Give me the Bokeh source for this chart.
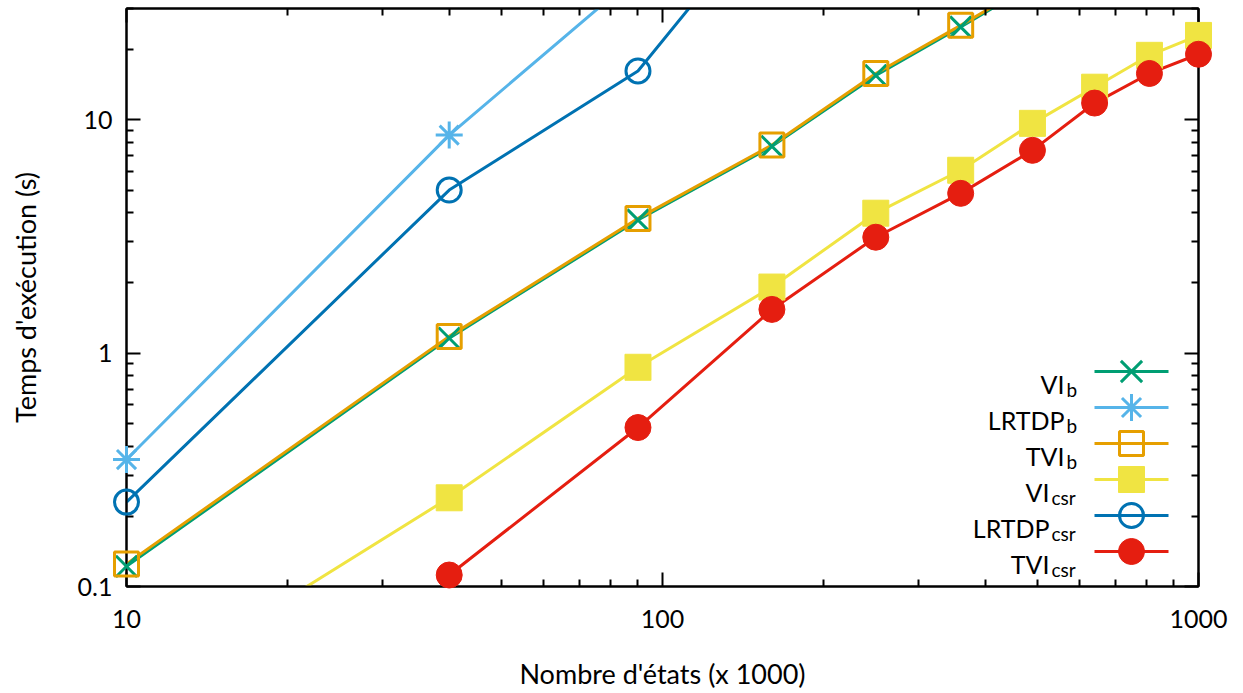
import numpy as np
from bokeh.plotting import figure
from bokeh.models import LogAxis, FixedTicker, Range1d, CustomJSTickFormatter
from bokeh.embed import file_html
from bokeh.resources import INLINE
from bokeh.core.properties import value

# ---------------- data ----------------
vi_b_x = [10, 40, 90, 160, 250, 360, 490]
vi_b_y = [0.122, 1.16, 3.72, 7.7, 15.5, 25.0, 38.0]

lrtdp_b_x = [10, 40, 90]
lrtdp_b_y = [0.35, 8.6, 42.0]

tvi_b_x = [10, 40, 90, 160, 250, 360, 490]
tvi_b_y = [0.125, 1.18, 3.78, 7.8, 15.8, 25.4, 38.5]

vi_csr_x = [10, 40, 90, 160, 250, 360, 490, 640, 810, 1000]
vi_csr_y = [0.033, 0.24, 0.87, 1.92, 3.98, 6.08, 9.66, 13.8, 18.9, 23.0]

lrtdp_csr_x = [10, 40, 90, 160]
lrtdp_csr_y = [0.23, 5.0, 16.2, 82.0]

tvi_csr_x = [40, 90, 160, 250, 360, 490, 640, 810, 1000]
tvi_csr_y = [0.112, 0.48, 1.54, 3.14, 4.84, 7.4, 11.8, 15.8, 19.1]

labels_main = ["VI", "LRTDP", "TVI", "VI", "LRTDP", "TVI"]
labels_sub = ["b", "b", "b", "csr", "csr", "csr"]

x_ticks = [10, 100, 1000]
x_minor = [20, 30, 40, 50, 60, 70, 80, 90, 200, 300, 400, 500, 600, 700, 800, 900]
y_ticks = [0.1, 1, 10]
y_minor = [0.2, 0.3, 0.4, 0.5, 0.6, 0.7, 0.8, 0.9, 2, 3, 4, 5, 6, 7, 8, 9, 20, 30]

XMIN, XMAX = 10, 1000
YMIN, YMAX = 0.1, 30

FONT = "Lato"
FS = "25px"
FS_AXIS = "27px"
FS_SUB = "19px"

# ---------------- layout ----------------
W, H = 1243, 693
FL, FR, FT, FB = 126, 1198, 8, 586

p = figure(width=W, height=H, x_axis_type="log", y_axis_type="log",
           x_range=Range1d(XMIN, XMAX), y_range=Range1d(YMIN, YMAX),
           output_backend="svg", toolbar_location=None,
           min_border_left=FL, min_border_right=W - FR,
           min_border_top=FT, min_border_bottom=H - FB)
p.xgrid.visible = False
p.ygrid.visible = False
p.outline_line_color = "black"
p.outline_line_width = 2
p.background_fill_color = "white"
p.border_fill_color = "white"

xt = FixedTicker(ticks=x_ticks, minor_ticks=x_minor)
yt = FixedTicker(ticks=y_ticks, minor_ticks=y_minor)


def style_axis(ax):
    ax.axis_line_color = "black"
    ax.axis_line_width = 2
    ax.major_tick_in = 14
    ax.major_tick_out = 0
    ax.minor_tick_in = 7
    ax.minor_tick_out = 0
    ax.major_tick_line_width = 2
    ax.minor_tick_line_width = 2
    ax.major_tick_line_color = "black"
    ax.minor_tick_line_color = "black"
    ax.major_label_text_font = FONT
    ax.major_label_text_font_size = FS
    ax.major_label_text_color = "black"
    ax.axis_label_text_font = FONT
    ax.axis_label_text_font_size = FS_AXIS
    ax.axis_label_text_font_style = "normal"
    ax.axis_label_text_color = "black"


xa = p.xaxis[0]
xa.ticker = xt
style_axis(xa)
xa.major_label_overrides = {10: "10", 100: "100", 1000: "1000"}
xa.major_label_standoff = 23
xa.axis_label = "Nombre d'états (x 1000)"
xa.axis_label_standoff = 26

ya = p.yaxis[0]
ya.ticker = yt
style_axis(ya)
ya.major_label_overrides = {0.1: "0.1", 1: "1", 10: "10"}
ya.major_label_standoff = 14
ya.axis_label = "Temps d'exécution (s)"
ya.axis_label_standoff = 33

blank = CustomJSTickFormatter(code="return ''")
for loc, tk in (("right", yt), ("above", xt)):
    ax = LogAxis(ticker=tk, formatter=blank)
    style_axis(ax)
    ax.major_label_standoff = 0
    ax.major_label_text_font_size = "0px"
    p.add_layout(ax, loc)

# ---------------- series ----------------
series = [
    (vi_b_x, vi_b_y, "#009e73", "x", 30, False),
    (lrtdp_b_x, lrtdp_b_y, "#56b4e9", "asterisk", 27, False),
    (tvi_b_x, tvi_b_y, "#e69f00", "square", 24, False),
    (vi_csr_x, vi_csr_y, "#f0e442", "square", 26, True),
    (lrtdp_csr_x, lrtdp_csr_y, "#0072b2", "circle", 24, False),
    (tvi_csr_x, tvi_csr_y, "#e51e10", "circle", 26, True),
]

LW = 3
for xs, ys, col, mk, sz, filled in series:
    p.line(xs, ys, line_color=col, line_width=LW)
    vx = [a for a, b in zip(xs, ys) if YMIN * 0.9 <= b <= YMAX]
    vy = [b for a, b in zip(xs, ys) if YMIN * 0.9 <= b <= YMAX]
    if filled:
        r = p.scatter(vx, vy, marker=mk, size=sz, fill_color=col, line_color=col, line_width=1)
    else:
        r = p.scatter(vx, vy, marker=mk, size=sz, fill_color=None, line_color=col, line_width=3)
    r.level = "overlay"

# ---------------- legend (manual, with subscripts) ----------------
lx = np.log10(XMAX) - np.log10(XMIN)
ly = np.log10(YMAX) - np.log10(YMIN)


def dx(px):
    return 10 ** (np.log10(XMIN) + (px - FL) / (FR - FL) * lx)


def dy(py):
    return 10 ** (np.log10(YMAX) - (py - FT) / (FB - FT) * ly)


row0, step = 371, 36
for i, (xs, ys, col, mk, sz, filled) in enumerate(series):
    cy = row0 + i * step
    p.line([dx(1094), dx(1168)], [dy(cy), dy(cy)], line_color=col, line_width=LW, level="overlay")
    if filled:
        p.scatter([dx(1131)], [dy(cy)], marker=mk, size=sz, fill_color=col, line_color=col,
                  line_width=1, level="overlay")
    else:
        p.scatter([dx(1131)], [dy(cy)], marker=mk, size=sz, fill_color=None, line_color=col,
                  line_width=3, level="overlay")
    sub_left = 1066 if labels_sub[i] == "b" else 1051
    p.text([dx(sub_left - 2)], [dy(cy + 12)], text=[labels_main[i]], text_align="right",
           text_baseline="alphabetic", text_font=value(FONT), text_font_size=FS,
           text_color="black", level="overlay")
    p.text([dx(sub_left)], [dy(cy + 18)], text=[labels_sub[i]], text_align="left",
           text_baseline="alphabetic", text_font=value(FONT), text_font_size=FS_SUB,
           text_color="black", level="overlay")

open("out.html", "w").write(file_html(p, INLINE))
